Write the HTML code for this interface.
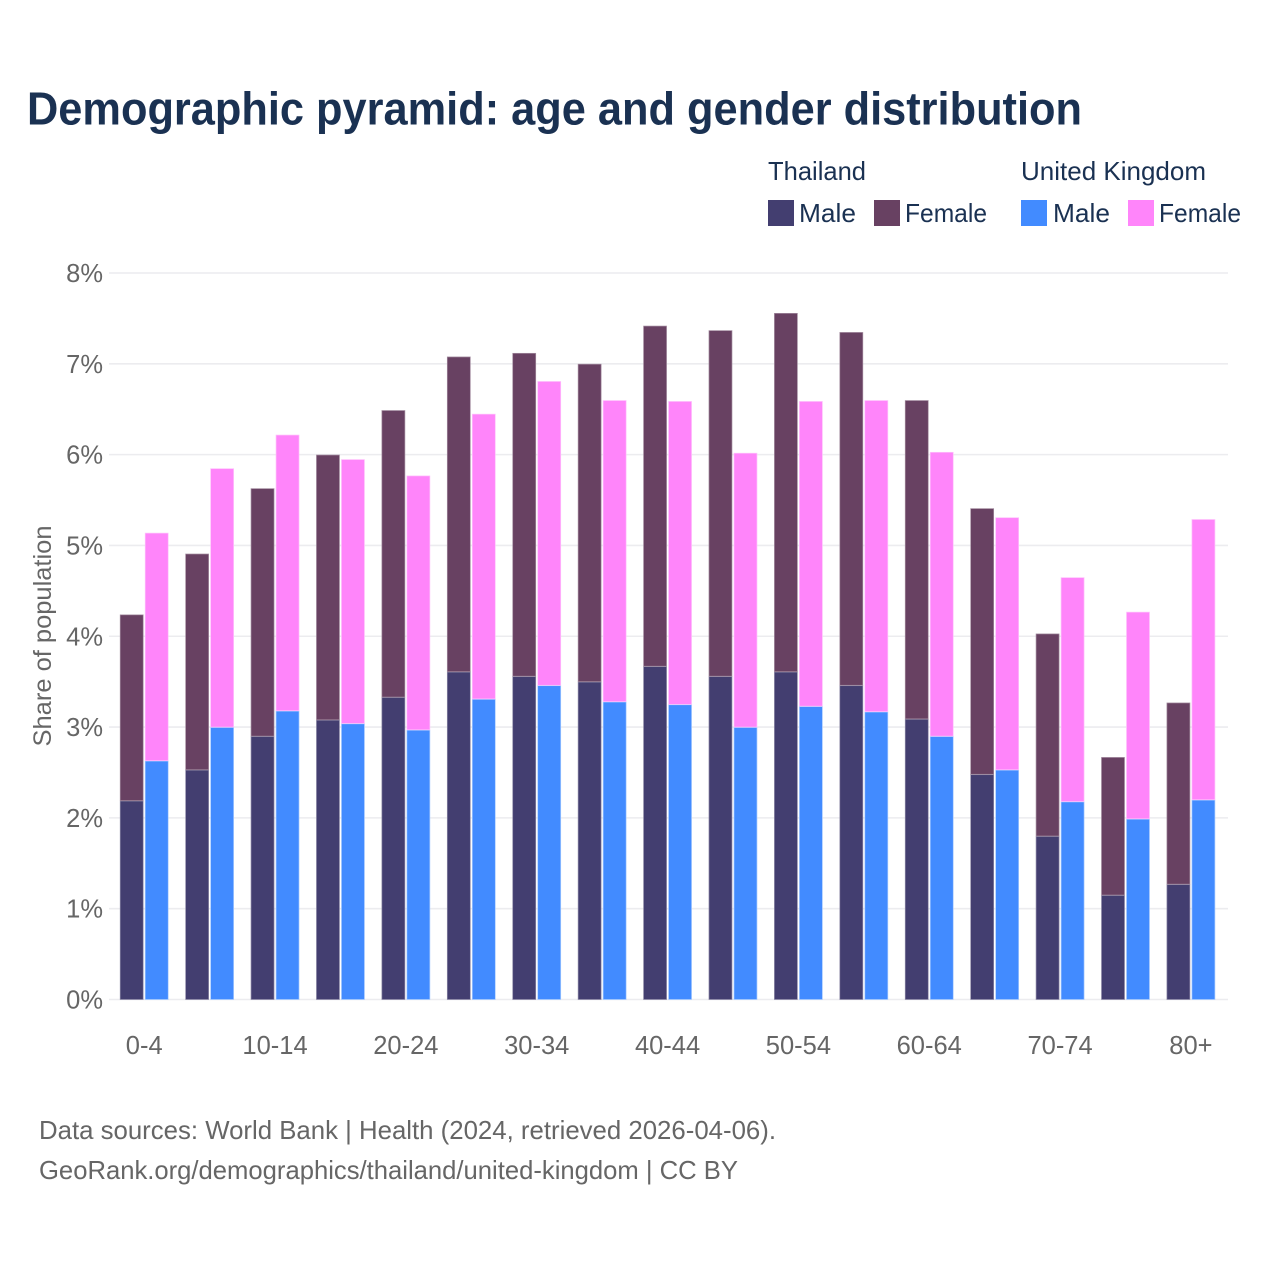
<!DOCTYPE html>
<html lang="en">
<head>
<meta charset="utf-8">
<title>Demographic pyramid: age and gender distribution</title>
<style>
html,body{margin:0;padding:0;background:#fff}
svg{display:block}
text{font-family:"Liberation Sans",sans-serif}
</style>
</head>
<body>
<svg id="chart" xmlns="http://www.w3.org/2000/svg" width="1280" height="1280" viewBox="0 0 1280 1280">
  <rect width="1280" height="1280" fill="#ffffff"/>
  <text x="27" y="124.5" font-size="46" font-weight="700" fill="#1a3152" textLength="1055" lengthAdjust="spacingAndGlyphs">Demographic pyramid: age and gender distribution</text>

  <g font-size="26" fill="#1a3152">
    <text x="768" y="180" textLength="98" lengthAdjust="spacingAndGlyphs">Thailand</text>
    <text x="1021" y="180" textLength="185" lengthAdjust="spacingAndGlyphs">United Kingdom</text>
    <rect x="768" y="200" width="26" height="26" fill="#433e70"/>
    <text x="799" y="222" textLength="57" lengthAdjust="spacingAndGlyphs">Male</text>
    <rect x="874" y="200" width="26" height="26" fill="#684162"/>
    <text x="905" y="222" textLength="82" lengthAdjust="spacingAndGlyphs">Female</text>
    <rect x="1021" y="200" width="26" height="26" fill="#428bff"/>
    <text x="1053" y="222" textLength="57" lengthAdjust="spacingAndGlyphs">Male</text>
    <rect x="1128" y="200" width="26" height="26" fill="#ff85fa"/>
    <text x="1159" y="222" textLength="82" lengthAdjust="spacingAndGlyphs">Female</text>
  </g>

  <g id="grid"></g>
  <g id="yticks"></g>
  <g id="bars"></g>
  <g id="xticks"></g>

  <text transform="translate(51,636) rotate(-90)" text-anchor="middle" font-size="25" fill="#666666" textLength="221" lengthAdjust="spacingAndGlyphs">Share of population</text>

  <text x="39" y="1139" font-size="26" fill="#666666" textLength="737" lengthAdjust="spacingAndGlyphs">Data sources: World Bank | Health (2024, retrieved 2026-04-06).</text>
  <text x="39" y="1179" font-size="26" fill="#666666" textLength="699" lengthAdjust="spacingAndGlyphs">GeoRank.org/demographics/thailand/united-kingdom | CC BY</text>
</svg>
<script>
const ageGroups = ['0-4','5-9','10-14','15-19','20-24','25-29','30-34','35-39','40-44','45-49','50-54','55-59','60-64','65-69','70-74','75-79','80+'];
const xTickLabels = ['0-4','10-14','20-24','30-34','40-44','50-54','60-64','70-74','80+'];
const yTickValues = [0,1,2,3,4,5,6,7,8];
const thailandMale = [2.19,2.53,2.90,3.08,3.33,3.61,3.56,3.50,3.67,3.56,3.61,3.46,3.09,2.48,1.80,1.15,1.27];
const thailandFemale = [2.05,2.38,2.73,2.92,3.16,3.47,3.56,3.50,3.75,3.81,3.95,3.89,3.51,2.93,2.23,1.52,2.00];
const ukMale = [2.63,3.00,3.18,3.04,2.97,3.31,3.46,3.28,3.25,3.00,3.23,3.17,2.90,2.53,2.18,1.99,2.20];
const ukFemale = [2.51,2.85,3.04,2.91,2.80,3.14,3.35,3.32,3.34,3.02,3.36,3.43,3.13,2.78,2.47,2.28,3.09];

const NS = 'http://www.w3.org/2000/svg';
const plot = {left:109, right:1228, y0:999.5, y8:273, firstCenter:144.2, step:65.42, barW:23, gap:2, inset:0.4};
function yScale(v){ return plot.y0 + (plot.y8 - plot.y0) * v / 8; }
function xCenter(i){ return plot.firstCenter + plot.step * i; }
function make(tag, attrs, parent){
  const el = document.createElementNS(NS, tag);
  for (const k in attrs) el.setAttribute(k, attrs[k]);
  parent.appendChild(el);
  return el;
}

const gridG = document.getElementById('grid');
const yG = document.getElementById('yticks');
yTickValues.forEach(function(v){
  const line = make('line', {x1:plot.left, x2:plot.right, y1:yScale(v), y2:yScale(v), stroke:'#ececef', 'stroke-width':1.6}, gridG);
  
  
  const t = make('text', {x:103, y:yScale(v)+9, 'text-anchor':'end', 'font-size':25.5, fill:'#666666'}, yG);
  t.textContent = v + '%';
  
  
});

const barsG = document.getElementById('bars');
function drawSegment(x, base, value, fill, stroke){
  const top = yScale(base + value) + plot.inset;
  const r = make('rect', {x:x, y:top, width:plot.barW, height:yScale(base) - top, fill:fill, stroke:stroke, 'stroke-width':0.7}, barsG);
  return r;
}
ageGroups.forEach(function(age, i){
  const c = xCenter(i);
  const xa = c - plot.gap/2 - plot.barW;
  const xb = c + plot.gap/2;
  const s1 = drawSegment(xa, 0, thailandMale[i], '#433e70', '#8f8ba8');
  
  
  const s2 = drawSegment(xa, thailandMale[i], thailandFemale[i], '#684162', '#a48da0');
  
  
  const s3 = drawSegment(xb, 0, ukMale[i], '#428bff', '#a9cbff');
  
  
  const s4 = drawSegment(xb, ukMale[i], ukFemale[i], '#ff85fa', '#ffc2fc');
  
  
});

const xG = document.getElementById('xticks');
xTickLabels.forEach(function(label){
  const i = ageGroups.indexOf(label);
  const t = make('text', {x:xCenter(i), y:1054, 'text-anchor':'middle', 'font-size':25.5, fill:'#666666'}, xG);
  t.textContent = label;
  
  
});
</script>
</body>
</html>
